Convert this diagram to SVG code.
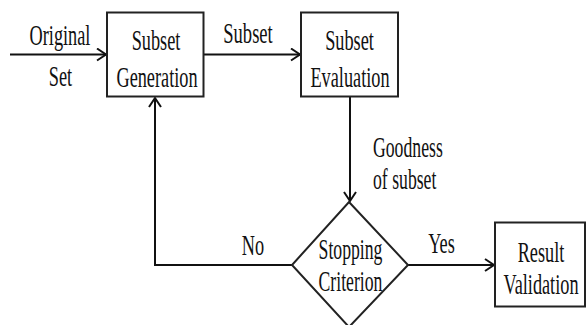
<svg xmlns="http://www.w3.org/2000/svg" width="587" height="325" viewBox="0 0 587 325">
  <style>
    .box { fill: #ffffff; stroke: #222222; stroke-width: 2; }
    .conn { fill: none; stroke: #111111; stroke-width: 2; }
    text { font-family: "Liberation Serif", "DejaVu Serif", serif; font-size: 29px; fill: #111111; }
    .c { text-anchor: middle; }
  </style>
  <defs>
    <marker id="arr" markerUnits="userSpaceOnUse" markerWidth="14" markerHeight="14" viewBox="0 0 14 14" refX="11" refY="7" orient="auto">
      <path d="M2,1 L11,7 L2,13" fill="none" stroke="#111111" stroke-width="2"/>
    </marker>
  </defs>
  <rect width="587" height="325" fill="#ffffff"/>

  <g id="connectors">
    <line class="conn" x1="10" y1="54.5" x2="106" y2="54.5" marker-end="url(#arr)"/>
    <line class="conn" x1="204" y1="54.5" x2="300" y2="54.5" marker-end="url(#arr)"/>
    <line class="conn" x1="350" y1="97" x2="350" y2="201" marker-end="url(#arr)"/>
    <polyline class="conn" points="292,265 155,265 155,98" marker-end="url(#arr)"/>
    <line class="conn" x1="408" y1="265" x2="494" y2="265" marker-end="url(#arr)"/>
    <text class="c" transform="translate(60,45) scale(0.63,1)">Original</text>
    <text class="c" transform="translate(60.5,86) scale(0.63,1)">Set</text>
    <text class="c" transform="translate(248,43) scale(0.64,1)">Subset</text>
    <text transform="translate(373,157) scale(0.61,1)">Goodness</text>
    <text transform="translate(373,189) scale(0.61,1)">of subset</text>
    <text class="c" transform="translate(253,255) scale(0.63,1)">No</text>
    <text class="c" transform="translate(441.5,253) scale(0.63,1)">Yes</text>
  </g>

  <g id="subset-generation">
    <rect class="box" x="107" y="12.5" width="96.5" height="84"/>
    <text class="c" transform="translate(156,50) scale(0.63,1)">Subset</text>
    <text class="c" transform="translate(157,87) scale(0.63,1)">Generation</text>
  </g>

  <g id="subset-evaluation">
    <rect class="box" x="301" y="12.5" width="97" height="84"/>
    <text class="c" transform="translate(349.5,50) scale(0.63,1)">Subset</text>
    <text class="c" transform="translate(350,87) scale(0.63,1)">Evaluation</text>
  </g>

  <g id="stopping-criterion">
    <polygon class="box" points="349,202 408,265 349,327 292,265"/>
    <text class="c" transform="translate(350.5,259) scale(0.61,1)">Stopping</text>
    <text class="c" transform="translate(350.5,291) scale(0.61,1)">Criterion</text>
  </g>

  <g id="result-validation">
    <rect class="box" x="495" y="222.5" width="90" height="84"/>
    <text class="c" transform="translate(541,262) scale(0.63,1)">Result</text>
    <text class="c" transform="translate(541,294) scale(0.63,1)">Validation</text>
  </g>
</svg>
